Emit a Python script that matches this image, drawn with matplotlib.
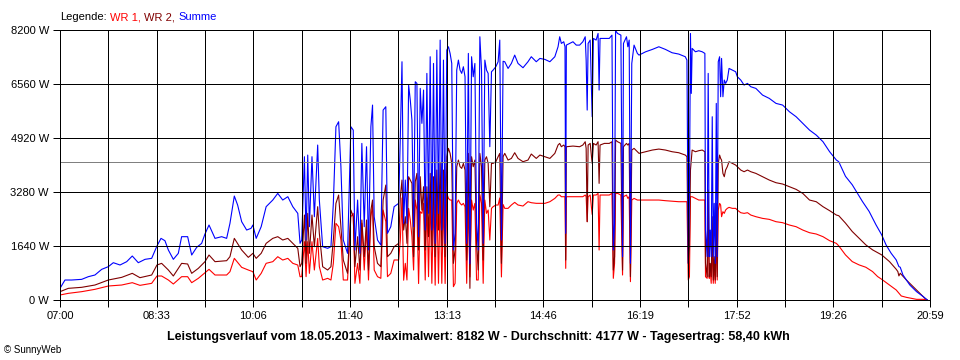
import matplotlib
matplotlib.use("Agg")
import matplotlib.pyplot as plt
import numpy as np

sum_t = [420, 424.8, 431.2, 440.9, 447.3, 453.7, 460.2, 466.6, 471.4, 477.9,
         484.3, 489.7, 495.5, 502, 508.4, 513.5, 517.4, 521.2, 524.5, 529.3,
         534.1, 537.3, 543.1, 547, 551.8, 556.6, 559.8, 563.7, 569.5, 575.9,
         580.7, 583.9, 588.1, 591.3, 595.2, 600, 604.2, 606, 609.2, 614,
         618.8, 625.2, 630, 634.8, 639.7, 644.5, 649.3, 651.5, 653.1, 655.7,
         657.3, 658.9, 660.5, 663, 665.3, 668.5, 670.1, 673.3, 678.1, 681.3,
         683.6, 686.1, 688.7, 690.9, 693.2, 697.3, 700.5, 702.8, 704.4, 707,
         709.2, 711.1, 713.4, 715.6, 717.5, 719.8, 721.4, 723, 726.2, 729.4,
         731.6, 734.2, 735.8, 739, 742.2, 746.6, 748.2, 749.8, 751.4, 753,
         754.6, 756.2, 757.8, 759.4, 761, 762.6, 764.2, 765.8, 767.4, 769,
         770.6, 772.2, 773.8, 775.4, 777, 778.6, 780.2, 781.8, 783.4, 785,
         786.6, 788.2, 789.8, 791.4, 793, 794.6, 796.2, 797.8, 799.4, 801,
         802.6, 804.2, 805.8, 807.4, 809, 810.6, 812.2, 813.8, 815.3, 816.9,
         818.5, 820.1, 821.7, 823.3, 824.9, 826.5, 828.1, 829.7, 831.3, 832.9,
         834.5, 836.1, 837.7, 840.3, 842.5, 844.1, 845.7, 847.3, 848.9, 852.1,
         855.3, 858.5, 861.7, 866.5, 871.3, 874.5, 879.3, 882.8, 887.6, 892.4,
         897.2, 900.3, 901.9, 903.5, 905.8, 907, 907.7, 908.3, 911.5, 914.7,
         917.9, 921.1, 924.2, 926.5, 927.4, 928.4, 929.3, 931.3, 933.2, 934.4,
         937, 938.9, 939.9, 940.8, 945, 949.7, 952.3, 953.6, 954.8, 955.8,
         957.7, 960.9, 962.5, 963.4, 966.3, 967.6, 968.9, 970.1, 971.4, 973.6,
         976.8, 978.4, 984.8, 991.2, 997.5, 1003.9, 1010.3, 1016.7, 1023, 1024.6,
         1025.9, 1027, 1028, 1028.8, 1029.6, 1032.8, 1036, 1039.3, 1041.9, 1042.5,
         1044.1, 1045.1, 1046.1, 1047, 1048, 1049, 1050, 1050.9, 1051.9, 1052.9,
         1053.8, 1054.8, 1056.1, 1057.1, 1058, 1059.3, 1060.6, 1061.9, 1063.5, 1065.2,
         1068.4, 1071.6, 1073.2, 1076.5, 1079.7, 1083, 1086.2, 1091.1, 1097.5, 1104,
         1110.5, 1116.9, 1123.4, 1129.9, 1136.3, 1142.8, 1149.3, 1155.8, 1162.2, 1168.7,
         1171, 1177.5, 1184, 1188.9, 1193.8, 1200.3, 1206.9, 1212.4, 1216.6, 1221.5,
         1226.4, 1229, 1230.3, 1232.9, 1239.5, 1246, 1252.5, 1256.4]
sum_w = [354, 607, 607, 627, 708, 759, 931, 1012, 1133, 1063,
         1164, 1336, 1133, 1235, 1265, 1640, 1872, 1801, 1518, 1235,
         1417, 1923, 1923, 1366, 1599, 1720, 2004, 2277, 1872, 1923,
         1872, 2328, 3157, 2884, 2378, 2125, 2176, 2277, 1872, 2226,
         2834, 3036, 3238, 3036, 3137, 2834, 2631, 1720, 1822, 4352,
         1822, 4402, 2226, 4352, 2530, 4706, 3036, 1619, 1569, 1619,
         2935, 5262, 5414, 4048, 1822, 1417, 5262, 5161, 1518, 3036,
         1417, 4756, 2226, 4655, 1518, 5262, 5920, 2530, 1822, 1670,
         5768, 5870, 2024, 2226, 2834, 2935, 4959, 7236, 2328, 3643,
         2328, 6527, 6072, 5465, 2226, 6629, 6578, 1923, 6426, 5364,
         6376, 2125, 6882, 2631, 7388, 2125, 7185, 1720, 7590, 2631,
         7894, 2125, 7286, 1720, 7590, 7691, 7489, 7185, 1518, 2024,
         6983, 7286, 6983, 6882, 7084, 6780, 1720, 7489, 1100, 7388,
         6780, 7185, 2328, 1518, 7995, 6983, 1720, 7286, 6983, 6882,
         4655, 6932, 6983, 7084, 7236, 7894, 1820, 7250, 7236, 7033,
         7185, 7438, 7185, 7054, 7236, 7388, 7236, 7337, 7307, 7236,
         7388, 7691, 7995, 7792, 7843, 7691, 2024, 7741, 7792, 7843,
         7741, 7741, 7843, 7995, 7286, 5768, 7792, 7894, 5566, 7944,
         7894, 8095, 6376, 7944, 7944, 7944, 8045, 1518, 2328, 8182,
         8095, 8045, 1316, 7792, 7995, 7691, 7894, 1113, 7185, 7741,
         7489, 7438, 7539, 7610, 7691, 7610, 7509, 7469, 7388, 7286,
         1113, 3137, 8095, 6274, 7641, 7539, 7570, 7539, 7489, 2125,
         1316, 6882, 1316, 2125, 1316, 5566, 1316, 2935, 1113, 5971,
         1316, 7236, 7388, 6173, 7337, 6173, 6680, 6578, 6680, 7033,
         6983, 6932, 6781, 6680, 6528, 6578, 6477, 6426, 6224, 6123,
         5971, 5920, 5718, 5566, 5364, 5161, 5009, 4807, 4503, 4250,
         4200, 3756, 3500, 3248, 2994, 2690, 2284, 1979, 1675, 1421,
         1218, 1015, 995, 761, 457, 254, 102, 0]

wr2_t = [420, 428, 440.9, 453.7, 466.6, 479.5, 489.7, 497.1, 508.4, 513.5,
         518, 524.5, 529.3, 537.3, 543.1, 547, 553.4, 559.8, 563.7, 569.5,
         580.7, 583.9, 588.1, 595.2, 601.6, 606, 609.2, 614, 618.8, 625.2,
         630, 634.8, 639.7, 644.5, 649.3, 651.5, 653.1, 655.7, 657.3, 658.9,
         660.5, 663, 665.3, 668.5, 670.1, 673.3, 678.1, 681.3, 683.6, 686.1,
         688.7, 690.9, 693.2, 697.3, 700.5, 702.8, 704.4, 707, 709.2, 711.1,
         713.4, 715.6, 717.5, 719.8, 721.4, 723, 726.2, 729.4, 731.6, 734.2,
         735.8, 739, 742.2, 746.6, 748.2, 749.8, 751.4, 753, 754.6, 756.2,
         757.8, 759.4, 761, 762.6, 764.2, 765.8, 767.4, 769, 770.6, 772.2,
         773.8, 775.4, 777, 778.6, 780.2, 781.8, 783.4, 785, 786.6, 788.2,
         789.8, 791.4, 793, 794.6, 796.2, 797.8, 799.4, 801, 802.6, 804.2,
         805.8, 807.4, 809, 810.6, 812.2, 813.8, 815.3, 816.9, 818.5, 820.1,
         821.7, 823.3, 824.9, 826.5, 828.1, 829.7, 831.3, 832.9, 834.5, 836.1,
         837.7, 840.3, 842.5, 844.1, 845.7, 847.3, 848.9, 852.1, 855.3, 858.5,
         861.7, 866.5, 871.3, 874.5, 879.3, 882.8, 887.6, 892.4, 897.2, 900.3,
         901.9, 903.5, 905.8, 907, 907.7, 908.3, 914.7, 921.1, 924.2, 926.5,
         927.4, 928.4, 929.3, 931.3, 933.2, 934.4, 937, 938.9, 939.9, 940.8,
         945, 949.7, 952.3, 953.6, 954.8, 955.8, 957.7, 960.9, 962.5, 963.4,
         966.3, 967.6, 968.9, 970.1, 971.4, 973.6, 976.8, 978.4, 984.8, 991.2,
         997.5, 1003.9, 1010.3, 1016.7, 1023, 1024.6, 1025.9, 1027, 1028, 1029.6,
         1032.8, 1036, 1039.3, 1041.9, 1042.5, 1044.1, 1045.1, 1046.1, 1047, 1048,
         1049, 1050, 1050.9, 1051.9, 1052.9, 1053.8, 1054.8, 1056.1, 1057.1, 1058,
         1059.3, 1060.6, 1061.9, 1063.5, 1065.2, 1068.4, 1071.6, 1073.2, 1076.5, 1079.7,
         1083, 1086.2, 1091.1, 1097.5, 1104, 1110.5, 1116.9, 1123.4, 1129.9, 1136.3,
         1142.8, 1149.3, 1155.8, 1162.2, 1168.7, 1171, 1177.5, 1184, 1190.6, 1197.1,
         1203.6, 1212.4, 1219.9, 1226.4, 1228, 1229, 1230.3, 1236.2, 1242.7, 1249.2,
         1254.1, 1256.4]
wr2_w = [253, 354, 385, 455, 607, 688, 810, 678, 759, 1063,
         1113, 911, 729, 1113, 1093, 810, 961, 1164, 1366, 1164,
         1194, 1316, 1872, 1518, 1295, 1417, 1265, 1417, 1720, 1872,
         1923, 1822, 1872, 1720, 1569, 1012, 1113, 2581, 1113, 2631,
         1417, 2581, 1619, 2834, 2024, 1012, 911, 1012, 1822, 2935,
         3188, 2226, 1214, 810, 2732, 2530, 1012, 1923, 911, 2429,
         1316, 2429, 911, 2732, 3036, 1619, 1113, 1012, 3036, 3491,
         1316, 1417, 1619, 1720, 3137, 3643, 2125, 2530, 1720, 3744,
         3643, 3542, 1316, 3592, 3845, 1518, 3744, 2732, 3440, 1518,
         3440, 1923, 3845, 1619, 3744, 1316, 3947, 2125, 4149, 1619,
         3947, 1316, 4352, 4605, 4453, 4149, 1113, 1518, 4048, 4250,
         4048, 3997, 4149, 3947, 1214, 4453, 354, 4352, 4048, 4250,
         1720, 911, 4453, 4048, 1214, 4250, 4352, 4149, 2834, 4149,
         4149, 4200, 4352, 4453, 1113, 4352, 4453, 4250, 4300, 4473,
         4300, 4200, 4250, 4433, 4300, 4402, 4352, 4300, 4453, 4706,
         4756, 4655, 4706, 4655, 1214, 4655, 4675, 4655, 4706, 4807,
         4605, 2378, 4706, 4756, 4149, 4756, 4706, 4807, 3542, 4706,
         4756, 4756, 4807, 911, 1316, 4858, 4807, 4756, 911, 4655,
         4756, 4706, 4756, 708, 4554, 4605, 4503, 4453, 4503, 4554,
         4584, 4554, 4503, 4473, 4402, 4352, 1113, 1619, 3947, 4554,
         4503, 4534, 4554, 4503, 1113, 708, 3340, 708, 1113, 708,
         2530, 607, 1316, 607, 2935, 708, 4149, 4402, 4300, 4250,
         3845, 3744, 3947, 4048, 4200, 4149, 4098, 4048, 3947, 3896,
         3947, 3896, 3845, 3744, 3643, 3562, 3522, 3440, 3360, 3238,
         3036, 2985, 2834, 2713, 2580, 2560, 2335, 2081, 1878, 1675,
         1523, 1370, 1167, 934, 863, 731, 812, 609, 406, 203,
         51, 0]

wr1_t = [420, 428, 440.9, 453.7, 466.6, 479.5, 489.7, 497.1, 508.4, 513.5,
         518, 524.5, 529.3, 537.3, 543.1, 547, 553.4, 559.8, 563.7, 569.5,
         580.7, 583.9, 588.1, 595.2, 601.6, 606, 609.2, 614, 618.8, 625.2,
         630, 634.8, 639.7, 644.5, 649.3, 651.5, 653.1, 655.7, 657.3, 658.9,
         660.5, 663, 665.3, 668.5, 670.1, 673.3, 678.1, 681.3, 683.6, 686.1,
         688.7, 690.9, 693.2, 697.3, 700.5, 702.8, 704.4, 707, 709.2, 711.1,
         713.4, 715.6, 717.5, 719.8, 721.4, 723, 726.2, 729.4, 731.6, 734.2,
         735.8, 739, 742.2, 746.6, 748.2, 749.8, 751.4, 753, 754.6, 756.2,
         757.8, 759.4, 761, 762.6, 764.2, 765.8, 767.4, 769, 770.6, 772.2,
         773.8, 775.4, 777, 778.6, 780.2, 781.8, 783.4, 785, 786.6, 788.2,
         789.8, 791.4, 793, 794.6, 796.2, 797.8, 799.4, 801, 802.6, 804.2,
         805.8, 807.4, 809, 810.6, 812.2, 813.8, 815.3, 816.9, 818.5, 820.1,
         821.7, 823.3, 824.9, 826.5, 828.1, 829.7, 831.3, 832.9, 834.5, 836.1,
         837.7, 840.3, 842.5, 844.1, 845.7, 847.3, 848.9, 852.1, 855.3, 858.5,
         861.7, 866.5, 871.3, 874.5, 879.3, 882.8, 887.6, 892.4, 897.2, 900.3,
         901.9, 903.5, 905.8, 907, 907.7, 908.3, 914.7, 921.1, 924.2, 926.5,
         927.4, 928.4, 929.3, 931.3, 933.2, 934.4, 937, 938.9, 939.9, 940.8,
         945, 949.7, 952.3, 953.6, 954.8, 955.8, 957.7, 960.9, 962.5, 963.4,
         966.3, 967.6, 968.9, 970.1, 971.4, 973.6, 976.8, 978.4, 984.8, 991.2,
         997.5, 1003.9, 1010.3, 1016.7, 1023, 1024.6, 1025.9, 1027, 1028, 1029.6,
         1032.8, 1036, 1039.3, 1041.9, 1042.5, 1044.1, 1045.1, 1046.1, 1047, 1048,
         1049, 1050, 1050.9, 1051.9, 1052.9, 1053.8, 1054.8, 1056.1, 1057.1, 1058,
         1059.3, 1060.6, 1061.9, 1063.5, 1065.2, 1068.4, 1071.6, 1073.2, 1076.5, 1079.7,
         1083, 1086.2, 1091.1, 1097.5, 1104, 1110.5, 1116.9, 1123.4, 1129.9, 1136.3,
         1142.8, 1149.3, 1155.8, 1162.2, 1168.7, 1171, 1177.5, 1184, 1190.6, 1197.1,
         1203.6, 1208.5, 1212.4, 1219.9, 1226.4, 1231.3, 1236.2, 1246, 1252.5, 1256.4]
wr1_w = [152, 202, 253, 324, 425, 455, 526, 445, 506, 729,
         729, 607, 486, 708, 708, 526, 658, 830, 931, 759,
         759, 860, 1265, 992, 911, 860, 607, 809, 1114, 1164,
         1315, 1214, 1265, 1114, 1062, 708, 709, 1771, 709, 1771,
         809, 1771, 911, 1872, 1012, 607, 658, 607, 1113, 2327,
         2226, 1822, 608, 607, 2530, 2631, 506, 1113, 506, 2327,
         910, 2226, 607, 2530, 2884, 911, 709, 658, 2732, 2379,
         708, 809, 1215, 1215, 1822, 3100, 600, 1113, 608, 2783,
         2429, 1923, 910, 3037, 2733, 500, 2682, 2632, 2936, 607,
         3100, 708, 3200, 506, 3100, 450, 3300, 506, 3300, 506,
         3100, 500, 3238, 3086, 3036, 3036, 405, 506, 2935, 3036,
         2935, 2885, 2935, 2833, 506, 3036, 700, 3036, 2732, 2935,
         608, 607, 3200, 2935, 506, 3036, 2631, 2733, 1821, 2783,
         2834, 2884, 2884, 3100, 700, 2900, 2783, 2783, 2885, 2965,
         2885, 2854, 2986, 2955, 2936, 2935, 2935, 2985, 3086, 3188,
         3188, 3137, 3137, 3137, 961, 3137, 3137, 3137, 3137, 3188,
         3137, 2378, 3137, 3188, 2600, 3188, 3188, 3238, 1518, 3188,
         3188, 3188, 3238, 658, 1113, 3238, 3238, 3188, 759, 3137,
         3188, 3086, 3137, 557, 3036, 3086, 3036, 3036, 3036, 3036,
         3036, 3016, 3000, 2985, 2985, 2985, 607, 708, 3137, 3137,
         3086, 3036, 3036, 3036, 708, 658, 2530, 658, 911, 506,
         1720, 506, 1113, 506, 1923, 607, 2732, 2935, 2884, 2530,
         2682, 2631, 2732, 2783, 2813, 2783, 2783, 2732, 2651, 2631,
         2651, 2580, 2530, 2479, 2449, 2378, 2348, 2277, 2226, 2125,
         2044, 2004, 1923, 1801, 1720, 1644, 1370, 1167, 1066, 995,
         863, 711, 629, 457, 305, 122, 81, 20, 20, 0]

average_w = 4177
x_labels = ["07:00", "08:33", "10:06", "11:40", "13:13", "14:46",
            "16:19", "17:52", "19:26", "20:59"]
y_values = [0, 1640, 3280, 4920, 6560, 8200]
title = ("Leistungsverlauf vom 18.05.2013 - Maximalwert: 8182 W - "
         "Durchschnitt: 4177 W - Tagesertrag: 58,40 kWh")

plt.rcParams["font.family"] = ["Liberation Sans", "DejaVu Sans"]

LW = 0.72  # one pixel at 100 dpi

fig = plt.figure(figsize=(9.6, 3.6), dpi=100)
ax = fig.add_axes([60 / 960, 60 / 360, 870 / 960, 270 / 360])

# the data lines are thin 1-px polylines in the original
ax.plot(wr1_t, wr1_w, color="#ff0000", lw=0.8, zorder=2.0)
ax.plot(wr2_t, wr2_w, color="#800000", lw=0.8, zorder=2.1)
ax.plot(sum_t, sum_w, color="#0000ff", lw=0.8, zorder=2.2)
ax.axhline(average_w, color="#808080", lw=LW, zorder=2.4, antialiased=False)

x0, x1 = 420, 1259
ax.set_xlim(x0, x1)
ax.set_ylim(0, 8200)
ax.set_xticks(np.linspace(x0, x1, len(x_labels)))
ax.set_xticklabels(x_labels)
ax.set_xticks(np.linspace(x0, x1, 2 * len(x_labels) - 1), minor=True)
ax.set_yticks(y_values)
ax.set_yticklabels([f"{v} W" for v in y_values])

ax.set_axisbelow(False)
ax.grid(True, which="both", axis="x", color="black", lw=LW, antialiased=False)
ax.grid(True, which="major", axis="y", color="black", lw=LW, antialiased=False)
ax.tick_params(which="both", direction="out", length=5, width=LW,
               color="black", labelsize=8, pad=3)
for s in ax.spines.values():
    s.set_color("black")
    s.set_linewidth(LW)
    s.set_antialiased(False)

# legend line above the plot, coloured word by word
renderer = fig.canvas.get_renderer()
x = 60 / 960
for word, col in [("Legende:", "black"), ("WR 1,", "#ff0000"),
                  ("WR 2,", "#800000"), ("Summe", "#0000ff")]:
    t = fig.text(x, 1 - 17 / 360, word, color=col, fontsize=8, va="center")
    bb = t.get_window_extent(renderer)
    x = (bb.x1 + 3.5) / 960

fig.text(478 / 960, 1 - 337 / 360, title, ha="center", va="center",
         fontsize=9, fontweight="bold",
         family=["Liberation Sans Narrow", "Liberation Sans", "DejaVu Sans"])
fig.text(4 / 960, 1 - 350 / 360, "© SunnyWeb", fontsize=7, va="center")

fig.savefig("out.png", dpi=100)
